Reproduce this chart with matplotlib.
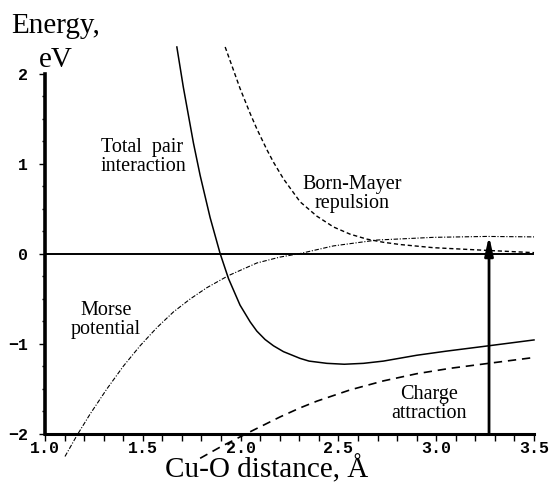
import matplotlib.pyplot as plt
from matplotlib.ticker import MultipleLocator

# values (distance in Angstrom, energy in eV)
total_x = [1.674, 1.707, 1.759, 1.793, 1.844, 1.895, 1.938, 1.997, 2.049, 2.083,
           2.125, 2.168, 2.219, 2.304, 2.35, 2.441, 2.53, 2.628, 2.73, 2.901,
           3.05, 3.268, 3.5]
total_y = [2.30, 1.855, 1.231, 0.874, 0.405, 0.007, -0.273, -0.568, -0.755, -0.857,
           -0.95, -1.02, -1.085, -1.16, -1.19, -1.215, -1.225, -1.215, -1.19, -1.125,
           -1.08, -1.02, -0.955]

bm_x = [1.921, 1.997, 2.049, 2.083, 2.134, 2.168, 2.219, 2.304, 2.390, 2.475,
        2.56, 2.646, 2.73, 2.816, 2.986, 3.259, 3.5]
bm_y = [2.30, 1.84, 1.56, 1.39, 1.16, 1.02, 0.835, 0.58, 0.42, 0.30,
        0.22, 0.165, 0.13, 0.105, 0.07, 0.04, 0.015]

morse_x = [1.102, 1.162, 1.230, 1.316, 1.401, 1.486, 1.571, 1.656, 1.742, 1.827,
           1.938, 2.083, 2.20, 2.304, 2.475, 2.697, 2.986, 3.259, 3.5]
morse_y = [-2.25, -2.02, -1.78, -1.50, -1.245, -1.02, -0.82, -0.645, -0.50, -0.375,
           -0.24, -0.10, -0.035, 0.005, 0.09, 0.155, 0.185, 0.195, 0.19]

charge_x = [1.793, 1.90, 2.049, 2.202, 2.304, 2.390, 2.560, 2.730, 2.901, 3.072, 3.268, 3.5]
charge_y = [-2.27, -2.14, -1.975, -1.81, -1.71, -1.635, -1.51, -1.41, -1.33, -1.27, -1.215, -1.15]

arrow_x = 3.27
arrow_top = 0.20

fig = plt.figure(figsize=(5.49, 4.90), dpi=100)
ax = fig.add_axes([0.082, 0.1143, 0.8907, 0.7347])

ax.axhline(0, color='black', lw=1.4)
ax.plot(total_x, total_y, color='black', lw=1.1, clip_on=False)
ax.plot(bm_x, bm_y, color='black', lw=1.0, dashes=(3, 2), clip_on=False)
ax.plot(morse_x, morse_y, color='black', lw=0.8, dashes=(4, 1.5, 1, 1.5), clip_on=False)
ax.plot(charge_x, charge_y, color='black', lw=1.2, dashes=(5, 3.5), clip_on=False)

ax.annotate('', xy=(arrow_x, arrow_top), xytext=(arrow_x, -2),
            arrowprops=dict(arrowstyle='-|>,head_length=0.8,head_width=0.18',
                            mutation_scale=14, lw=2, color='black',
                            shrinkA=0, shrinkB=0))

ax.set_xlim(1.0, 3.5)
ax.set_ylim(-2, 2)
ax.spines['top'].set_visible(False)
ax.spines['right'].set_visible(False)
ax.spines['left'].set_linewidth(2.6)
ax.spines['bottom'].set_linewidth(2.2)

ax.xaxis.set_major_locator(MultipleLocator(0.5))
ax.xaxis.set_minor_locator(MultipleLocator(0.1))
ax.yaxis.set_major_locator(MultipleLocator(1))
ax.yaxis.set_minor_locator(MultipleLocator(0.25))
ax.tick_params(axis='x', which='both', direction='out', length=5, width=1, pad=0)
ax.tick_params(axis='y', which='major', direction='out', length=4, width=1, pad=8)
ax.tick_params(axis='y', which='minor', direction='out', length=2.5, width=1)
ax.set_xticklabels([f'{v:.1f}' for v in ax.get_xticks()])
for lab in ax.get_xticklabels() + ax.get_yticklabels():
    lab.set_fontfamily('Liberation Mono')
    lab.set_fontweight('bold')
    lab.set_fontsize(12)

serif = 'Liberation Serif'
ax.text(1.286, 1.08, 'Total  pair\ninteraction', family=serif, fontsize=14.5,
        ha='left', va='center', linespacing=1.0)
ax.text(2.57, 0.667, 'Born-Mayer\nrepulsion', family=serif, fontsize=14.5,
        ha='center', va='center', linespacing=1.05)
ax.text(1.312, -0.735, 'Morse\npotential', family=serif, fontsize=14.5,
        ha='center', va='center', linespacing=1.0)
ax.text(2.964, -1.672, 'Charge\nattraction', family=serif, fontsize=14.5,
        ha='center', va='center', linespacing=1.0)

fig.text(56 / 549, 1 - 33 / 490, 'Energy,', family=serif, fontsize=21,
         ha='center', va='baseline')
fig.text(56 / 549, 1 - 67 / 490, 'eV', family=serif, fontsize=21,
         ha='center', va='baseline')
fig.text(267 / 549, 1 - 477 / 490, 'Cu-O distance, Å', family=serif, fontsize=21,
         ha='center', va='baseline')

fig.savefig('out.png', dpi=100)
